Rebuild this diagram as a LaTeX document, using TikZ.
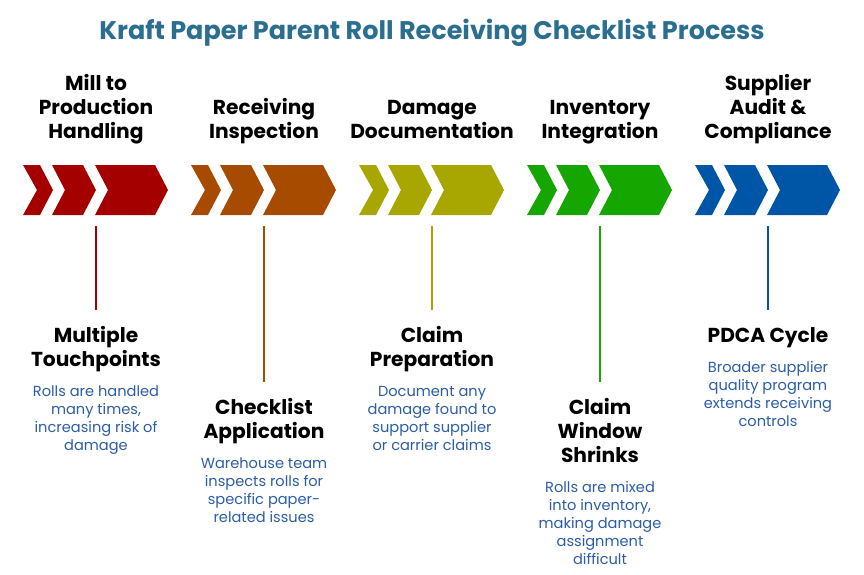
\documentclass[tikz,border=0pt]{standalone}
\usepackage{fontspec}
\setmainfont{Poppins}
\begin{document}
\begin{tikzpicture}[x=1pt,y=-1pt,
 head/.style={font=\fontsize{20.2}{24}\selectfont\bfseries,align=center,text=black,inner sep=0},
 desc/.style={font=\fontsize{14.6}{18}\selectfont,align=center,text=descc,inner sep=0},
 chev/.style={fill=#1}]
\definecolor{titlec}{HTML}{2A6E90}
\definecolor{descc}{HTML}{2B5DA8}
\definecolor{c1}{HTML}{A50000}
\definecolor{c2}{HTML}{A64B00}
\definecolor{c3}{HTML}{A8A600}
\definecolor{c4}{HTML}{15A600}
\definecolor{c5}{HTML}{0056A6}
\useasboundingbox (0,0) rectangle (864,574);
\node[font=\fontsize{25.5}{30}\selectfont\bfseries,text=titlec,anchor=base] (title) at (432,39) {Kraft Paper Parent Roll Receiving Checklist Process};
\foreach \i/\c in {0/c1,1/c2,2/c3,3/c4,4/c5}{
 \begin{scope}[xshift=\i*168]
 \fill[\c] (23,165)--(40,165)--(53,190)--(40,215)--(23,215)--(37,190)--cycle;
 \fill[\c] (52,165)--(83,165)--(96,190)--(83,215)--(52,215)--(65,190)--cycle;
 \fill[\c] (95,165)--(155,165)--(168,190)--(155,215)--(95,215)--(108,190)--cycle;
 \end{scope}}
% top headings (anchor base = last line baseline)
\node[head,anchor=base] (h1) at (96,138) {Mill to\\Production\\Handling};
\node[head,anchor=base] (h2) at (264,138) {Receiving\\Inspection};
\node[head,anchor=base] (h3) at (432,138) {Damage\\Documentation};
\node[head,anchor=base] (h4) at (600,138) {Inventory\\Integration};
\node[head,anchor=base] (h5) at (768,138) {Supplier\\Audit \&\\Compliance};
% connectors
\coordinate (t1) at (96,226); \coordinate (b1) at (96,310);
\coordinate (t2) at (264,226); \coordinate (b2) at (264,382);
\coordinate (t3) at (432,226); \coordinate (b3) at (432,310);
\coordinate (t4) at (600,226); \coordinate (b4) at (600,382);
\coordinate (t5) at (768,226); \coordinate (b5) at (768,310);
\draw[c1,line width=1.5] (t1)--(b1);
\draw[c2,line width=1.5] (t2)--(b2);
\draw[c3,line width=1.5] (t3)--(b3);
\draw[c4,line width=1.5] (t4)--(b4);
\draw[c5,line width=1.5] (t5)--(b5);
% bottom titles
\node[head,anchor=base] (s1) at (96,366) {Multiple\\Touchpoints};
\node[head,anchor=base] (s2) at (264,438) {Checklist\\Application};
\node[head,anchor=base] (s3) at (432,366) {Claim\\Preparation};
\node[head,anchor=base] (s4) at (600,462) {Claim\\Window\\Shrinks};
\node[head,anchor=base] (s5) at (768,342) {PDCA Cycle};
% descriptions
\node[desc,anchor=base] (d1) at (96,450) {Rolls are handled\\many times,\\increasing risk of\\damage};
\node[desc,anchor=base] (d2) at (264,522) {Warehouse team\\inspects rolls for\\specific paper-\\related issues};
\node[desc,anchor=base] (d3) at (432,450) {Document any\\damage found to\\support supplier\\or carrier claims};
\node[desc,anchor=base] (d4) at (600,564) {Rolls are mixed\\into inventory,\\making damage\\assignment\\difficult};
\node[desc,anchor=base] (d5) at (768,426) {Broader supplier\\quality program\\extends receiving\\controls};
\end{tikzpicture}
\end{document}
